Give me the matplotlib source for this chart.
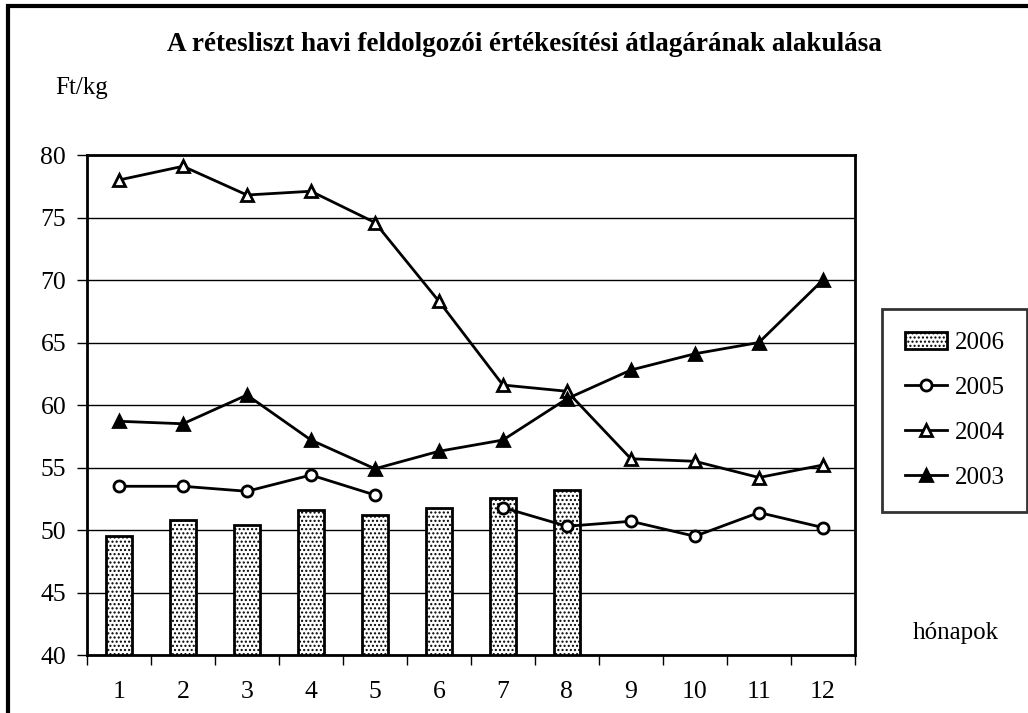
from matplotlib import pyplot as plt
from matplotlib.patches import Rectangle
import numpy as np

plt.rcParams['font.family'] = ['Liberation Serif', 'DejaVu Serif']
plt.rcParams['hatch.color'] = '#9a9a9a'
plt.rcParams['hatch.linewidth'] = 1.0

# adatok
honapok = np.arange(1, 13)
ev_2006 = [49.5, 50.8, 50.4, 51.6, 51.2, 51.8, 52.6, 53.2]
ev_2005 = [53.5, 53.5, 53.1, 54.4, 52.8, np.nan, 51.8, 50.3, 50.7, 49.5, 51.4, 50.2]
ev_2004 = [78.0, 79.1, 76.8, 77.1, 74.6, 68.3, 61.6, 61.1, 55.7, 55.5, 54.2, 55.2]
ev_2003 = [58.7, 58.5, 60.8, 57.2, 54.9, 56.3, 57.2, 60.5, 62.8, 64.1, 65.0, 70.0]

fig = plt.figure(figsize=(10.28, 7.13), dpi=100)
ax = fig.add_axes([0.0846, 0.0813, 0.747, 0.7013])

ax.bar(honapok[:len(ev_2006)], ev_2006, width=0.4, color='white',
       edgecolor='black', linewidth=2, hatch='....', label='2006', zorder=2)
ax.plot(honapok, ev_2005, color='black', lw=2, marker='o', ms=8,
        mfc='white', mec='black', mew=2, label='2005', zorder=3)
ax.plot(honapok, ev_2004, color='black', lw=2, marker='^', ms=8,
        mfc='white', mec='black', mew=2, label='2004', zorder=3)
ax.plot(honapok, ev_2003, color='black', lw=2, marker='^', ms=8,
        mfc='black', mec='black', mew=2, label='2003', zorder=3)

ax.set_ylim(40, 80)
ax.set_xlim(0.5, 12.5)
ax.set_yticks(np.arange(40, 81, 5))
ax.yaxis.grid(True, color='black', lw=1)
ax.set_axisbelow(True)

ax.set_xticks(np.arange(0.5, 13, 1))
ax.set_xticklabels([])
ax.set_xticks(honapok, minor=True)
ax.set_xticklabels([str(h) for h in honapok], minor=True)
ax.tick_params(axis='x', which='minor', length=0, pad=19, labelsize=18.5)
ax.tick_params(axis='x', which='major', length=7, width=1, direction='out')
ax.tick_params(axis='y', length=7, width=1, direction='out', labelsize=18.5, pad=8)
for sp in ax.spines.values():
    sp.set_linewidth(2)

fig.text(0.51, 0.937, 'A rétesliszt havi feldolgozói értékesítési átlagárának alakulása',
         ha='center', va='center', fontsize=19.5, fontweight='bold')
fig.text(0.054, 0.876, 'Ft/kg', ha='left', va='center', fontsize=18)
fig.text(0.888, 0.112, 'hónapok', ha='left', va='center', fontsize=18)

handles, labels = ax.get_legend_handles_labels()
order = [labels.index(l) for l in ['2006', '2005', '2004', '2003']]
leg = fig.legend([handles[i] for i in order], [labels[i] for i in order],
                 loc='upper left', bbox_to_anchor=(882 / 1028, 1 - 309 / 713),
                 fontsize=18, frameon=True, fancybox=False, edgecolor='black',
                 handlelength=1.7, labelspacing=0.9, borderpad=0.9,
                 handletextpad=0.3, borderaxespad=0)
leg.get_frame().set_linewidth(2)

# keret a teljes ábra körül
fig.patches.append(Rectangle((8 / 1028, -0.1), 1.2, 1 - 6 / 713 + 0.1,
                             transform=fig.transFigure, fill=False,
                             edgecolor='black', lw=3))

fig.savefig('out.png', dpi=100)
